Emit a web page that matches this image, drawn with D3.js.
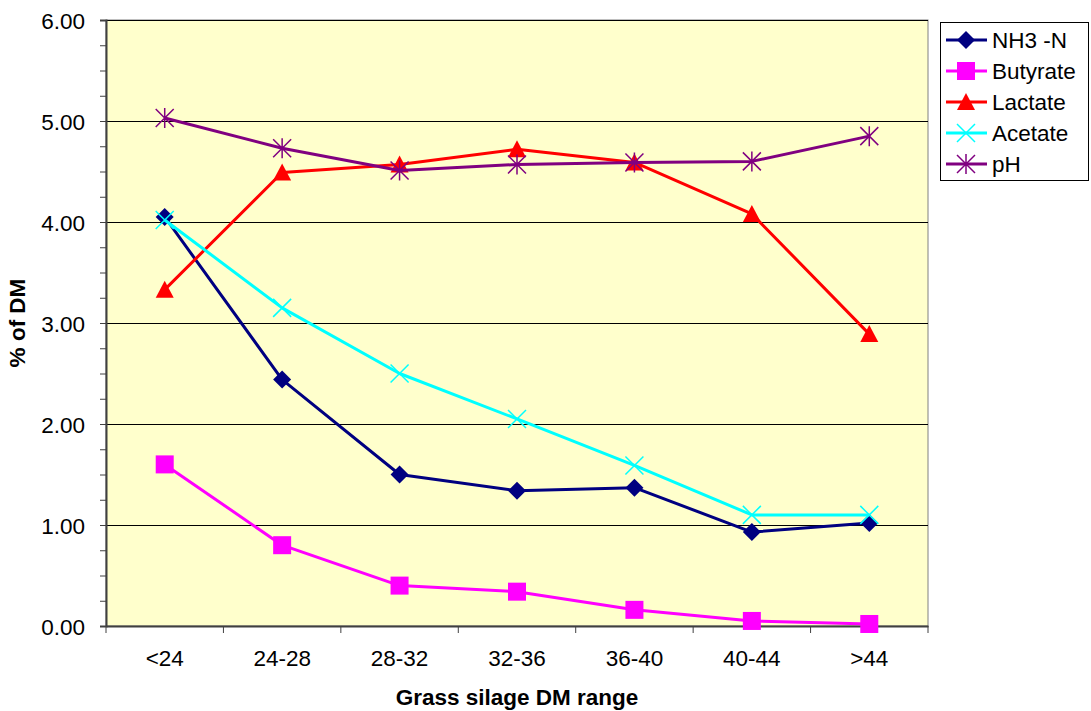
<!DOCTYPE html>
<html><head><meta charset="utf-8">
<script src="https://cdn.jsdelivr.net/npm/d3@7"></script>
<style>body{margin:0;background:#fff}svg{display:block;font-family:"Liberation Sans",Arial,sans-serif}</style>
</head><body><svg id="c" width="1091" height="711"></svg>
<script>
const categories = ["<24","24-28","28-32","32-36","36-40","40-44",">44"];
const nh3N     = [4.05, 2.44, 1.50, 1.34, 1.37, 0.93, 1.02];
const butyrate = [1.60, 0.80, 0.40, 0.34, 0.16, 0.05, 0.02];
const lactate  = [3.33, 4.49, 4.57, 4.72, 4.59, 4.08, 2.89];
const acetate  = [4.02, 3.15, 2.50, 2.05, 1.59, 1.10, 1.10];
const pH       = [5.03, 4.73, 4.51, 4.57, 4.59, 4.60, 4.85];
const yTicks   = [0,1,2,3,4,5,6];
const seriesNames = ["NH3 -N","Butyrate","Lactate","Acetate","pH"];

const series = [
  {name: seriesNames[0], values: nh3N, color: "#000080", marker: "diamond"},
  {name: seriesNames[1], values: butyrate, color: "#FF00FF", marker: "square"},
  {name: seriesNames[2], values: lactate, color: "#FF0000", marker: "triangle"},
  {name: seriesNames[3], values: acetate, color: "#00FFFF", marker: "x"},
  {name: seriesNames[4], values: pH, color: "#800080", marker: "star"}
];

const FONT = "Liberation Sans, Arial, sans-serif";
const FS = 22.5;
const svg = d3.select("#c");
const L = 106, R = 928, T = 20, B = 626;
const x = d3.scaleBand().domain(categories).range([L, R]);
const y = d3.scaleLinear().domain([0, 6]).range([B, T]);

svg.append("rect").attr("x", L).attr("y", T).attr("width", R - L).attr("height", B - T)
  .attr("fill", "#FFFFCC").attr("stroke", "#808080").attr("stroke-width", 1);

// gridlines
svg.append("g").selectAll("line").data(yTicks.slice(1)).join("line")
  .attr("x1", L).attr("x2", R).attr("y1", d => y(d)).attr("y2", d => y(d))
  .attr("stroke", "#000").attr("stroke-width", 1).attr("shape-rendering", "crispEdges");

// y axis
const yAxis = d3.axisLeft(y).tickValues(d3.range(0, 6.001, 0.25)).tickSize(6)
  .tickFormat(d => Number.isInteger(d) ? d.toFixed(2) : "");
const gy = svg.append("g").attr("transform", `translate(${L},0)`).call(yAxis);
gy.attr("font-size", FS).attr("font-family", FONT);
gy.select(".domain").attr("stroke", "#404040").attr("stroke-width", 2);
gy.selectAll(".tick line").attr("stroke", "#404040");
gy.selectAll(".tick text").attr("fill", "#000").attr("x", -21).attr("dy", "0.36em");

// x axis
const gx = svg.append("g").attr("transform", `translate(0,${B})`)
  .call(d3.axisBottom(x).tickSize(0).tickPadding(0));
gx.attr("font-size", FS).attr("font-family", FONT);
gx.select(".domain").attr("stroke", "#404040").attr("stroke-width", 2);
gx.selectAll(".tick text").attr("fill", "#000").attr("dy", null).attr("y", 40);
const bounds = categories.map(c => x(c)).concat([R]);
svg.append("g").selectAll("line").data(bounds).join("line")
  .attr("x1", d => d).attr("x2", d => d).attr("y1", B).attr("y2", B + 7)
  .attr("stroke", "#404040").attr("stroke-width", 1);

// axis titles
svg.append("text").attr("x", (L + R) / 2).attr("y", 705).attr("text-anchor", "middle")
  .attr("font-family", FONT).attr("font-size", FS).attr("font-weight", "bold").text("Grass silage DM range");
svg.append("text").attr("transform", `translate(25,${(T + B) / 2}) rotate(-90)`)
  .attr("text-anchor", "middle").attr("font-family", FONT).attr("font-size", FS)
  .attr("font-weight", "bold").text("% of DM");

function drawMarker(g, type, color) {
  if (type === "diamond") g.append("path").attr("d", "M0,-9L9,0L0,9L-9,0Z").attr("fill", color);
  else if (type === "square") g.append("rect").attr("x", -9).attr("y", -9).attr("width", 18).attr("height", 18).attr("fill", color);
  else if (type === "triangle") g.append("path").attr("d", "M0,-9L9,8L-9,8Z").attr("fill", color);
  else if (type === "x") g.append("path").attr("d", "M-9,-9L9,9M-9,9L9,-9").attr("stroke", color).attr("stroke-width", 1.5).attr("fill", "none");
  else if (type === "star") g.append("path").attr("d", "M-9,-9L9,9M-9,9L9,-9M0,-10L0,10").attr("stroke", color).attr("stroke-width", 1.5).attr("fill", "none");
}

const cx = c => x(c) + x.bandwidth() / 2;
const line = d3.line().x((d, i) => cx(categories[i])).y(d => y(d));
series.forEach(s => {
  svg.append("path").datum(s.values).attr("d", line).attr("fill", "none")
    .attr("stroke", s.color).attr("stroke-width", 3).attr("stroke-linejoin", "round");
  s.values.forEach((v, i) => {
    const g = svg.append("g").attr("transform", `translate(${cx(categories[i])},${y(v)})`);
    drawMarker(g, s.marker, s.color);
  });
});

// legend
const lg = svg.append("g");
lg.append("rect").attr("x", 940.5).attr("y", 22.5).attr("width", 148).attr("height", 158)
  .attr("fill", "#fff").attr("stroke", "#000").attr("stroke-width", 1);
series.forEach((s, i) => {
  const yy = 40 + i * 31;
  lg.append("line").attr("x1", 946).attr("x2", 987).attr("y1", yy).attr("y2", yy)
    .attr("stroke", s.color).attr("stroke-width", 3);
  const g = lg.append("g").attr("transform", `translate(966,${yy})`);
  drawMarker(g, s.marker, s.color);
  lg.append("text").attr("x", 992).attr("y", yy + 8).attr("font-family", FONT)
    .attr("font-size", FS).text(s.name);
});
</script></body></html>
